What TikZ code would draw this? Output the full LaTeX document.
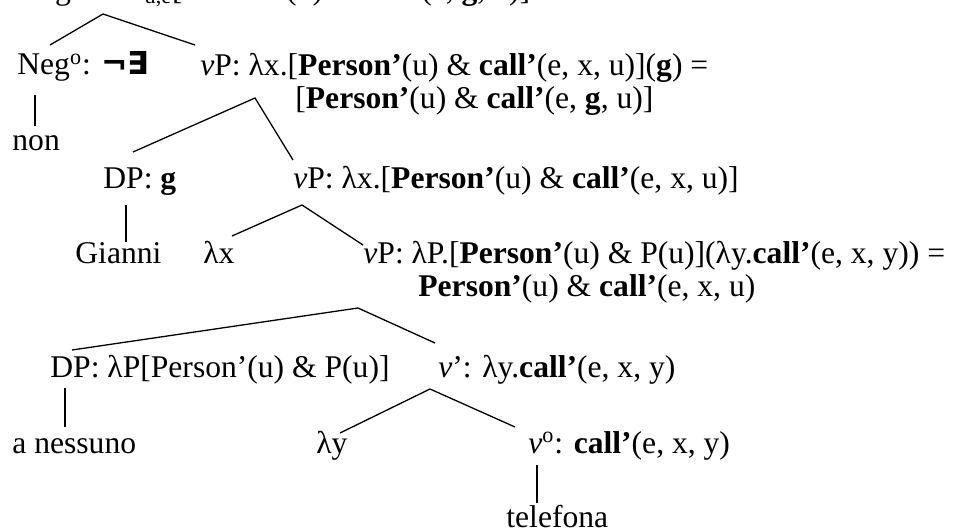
\documentclass[tikz,border=0pt]{standalone}
\usepackage{fontspec}
\setmainfont{Liberation Serif}
\newfontfamily\quantfont{DejaVu Sans}
\usetikzlibrary{positioning}

\begin{document}
\begin{tikzpicture}[
  x=0.5pt, y=-0.5pt,
  lbl/.style={anchor=base west, inner sep=0pt, align=left,
              font=\fontsize{15.8}{16.5}\selectfont},
  br/.style={line width=0.65pt}
]
  \useasboundingbox (0,0) rectangle (970,530);
  \node[lbl] (negp)  at (18,-1)   {NegP: ¬{\quantfont\bfseries ∃}\textsubscript{u,e}[\textbf{Person’}(u) \& \textbf{call’}(e, \textbf{g}, u)]};
  \node[lbl] (neg)   at (17,75)   {Neg\textsuperscript{o}: {\quantfont\bfseries ¬∃}};
  \node[lbl] (vp1)   at (200,108) {\textit{v}P: λx.[\textbf{Person’}(u) \& \textbf{call’}(e, x, u)](\textbf{g}) =\\
                                   \hspace*{47.5pt}[\textbf{Person’}(u) \& \textbf{call’}(e, \textbf{g}, u)]};
  \node[lbl] (non)   at (12,150)  {non};
  \node[lbl] (dpg)   at (103,188) {DP: \textbf{g}};
  \node[lbl] (vp2)   at (293,188) {\textit{v}P: λx.[\textbf{Person’}(u) \& \textbf{call’}(e, x, u)]};
  \node[lbl] (gian)  at (75,263)  {Gianni};
  \node[lbl] (lamx)  at (203,263) {λx};
  \node[lbl] (vp3)   at (363,296) {\textit{v}P: λP.[\textbf{Person’}(u) \& P(u)](λy.\textbf{call’}(e, x, y)) =\\
                                   \hspace*{27.5pt}\textbf{Person’}(u) \& \textbf{call’}(e, x, u)};
  \node[lbl] (dpn)   at (50,377)  {DP: λP[Person’(u) \& P(u)]};
  \node[lbl] (vbar)  at (438,377) {\textit{v}’: λy.\textbf{call’}(e, x, y)};
  \node[lbl] (ness)  at (12,453)  {a nessuno};
  \node[lbl] (lamy)  at (316,453) {λy};
  \node[lbl] (vhead) at (528,453) {\textit{v}\textsuperscript{o}: \textbf{call’}(e, x, y)};
  \node[lbl] (tel)   at (506,527) {telefona};

  \coordinate (negp-a)  at (103,14);
  \coordinate (neg-t)   at (50,45);
  \coordinate (vp1-t)   at (195,45);
  \coordinate (neg-b)   at (35,95);
  \coordinate (non-t)   at (35,126);
  \coordinate (vp1-a)   at (255,98);
  \coordinate (dpg-t)   at (133,152);
  \coordinate (vp2-t)   at (293,160);
  \coordinate (dpg-b)   at (126,205);
  \coordinate (gian-t)  at (126,242);
  \coordinate (vp2-a)   at (302,205);
  \coordinate (lamx-t)  at (232,236);
  \coordinate (vp3-t)   at (363,245);
  \coordinate (vp3-a)   at (358,308);
  \coordinate (dpn-t)   at (72,350);
  \coordinate (vbar-t)  at (435,343);
  \coordinate (dpn-b)   at (65,388);
  \coordinate (ness-t)  at (65,427);
  \coordinate (vbar-a)  at (430,389);
  \coordinate (lamy-t)  at (340,433);
  \coordinate (vhead-t) at (515,427);
  \coordinate (vhead-b) at (537,465);
  \coordinate (tel-t)   at (537,503);

  \draw[br] (neg-t) -- (negp-a) -- (vp1-t);
  \draw[br] (neg-b) -- (non-t);
  \draw[br] (dpg-t) -- (vp1-a) -- (vp2-t);
  \draw[br] (dpg-b) -- (gian-t);
  \draw[br] (lamx-t) -- (vp2-a) -- (vp3-t);
  \draw[br] (dpn-t) -- (vp3-a) -- (vbar-t);
  \draw[br] (dpn-b) -- (ness-t);
  \draw[br] (lamy-t) -- (vbar-a) -- (vhead-t);
  \draw[br] (vhead-b) -- (tel-t);
\end{tikzpicture}
\end{document}
